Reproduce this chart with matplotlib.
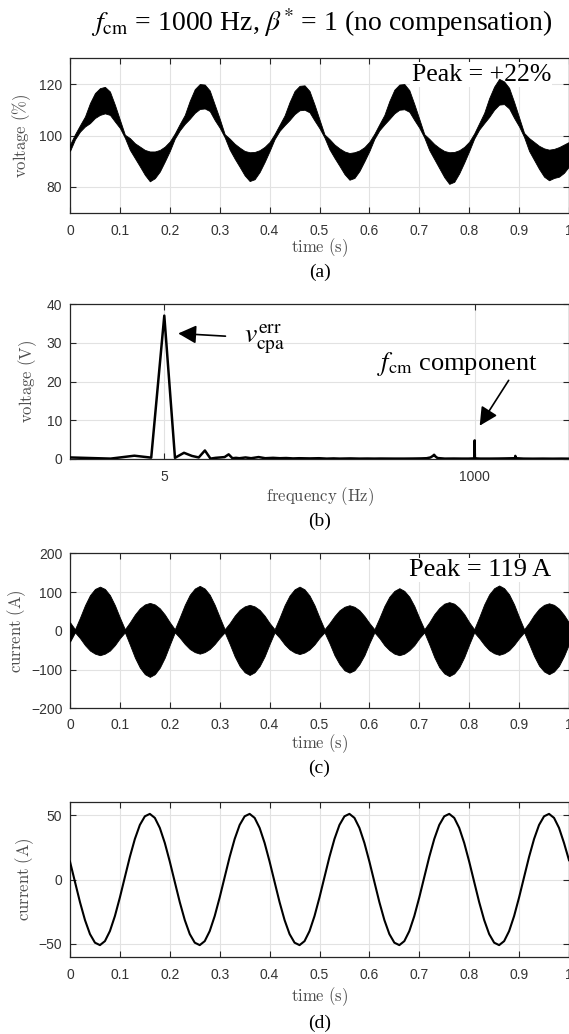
#!/usr/bin/env python3
"""Four stacked panels: voltage, its spectrum, inverter current, load current."""
import numpy as np
import matplotlib
matplotlib.use("Agg")
import matplotlib.pyplot as plt
from matplotlib.ticker import NullLocator

plt.rcParams["font.family"] = "Liberation Sans"

# ── Data ──
time_s = np.arange(101) / 100

# (a) voltage band, upper / lower envelope every 10 ms
volt_upper = [
    96.5, 100.5, 104.0, 107.4, 112.6, 116.5, 118.4, 118.9, 117.1, 111.9, 106.1, 100.3, 99.0, 97.0, 95.7, 94.4, 93.8, 93.8, 94.4, 95.7,
    97.7, 100.8, 104.5, 108.0, 113.5, 118.0, 120.0, 119.8, 117.5, 112.0, 106.5, 100.5, 98.8, 96.8, 95.3, 94.0, 93.5, 93.6, 94.3, 95.6,
    97.5, 100.6, 104.2, 107.8, 113.0, 117.3, 119.3, 119.5, 117.3, 112.0, 106.2, 100.4, 98.6, 96.5, 95.0, 93.8, 93.2, 93.5, 94.2, 95.5,
    97.6, 100.7, 104.4, 108.0, 113.4, 117.8, 119.8, 120.0, 117.6, 112.2, 106.4, 100.5, 98.7, 96.7, 95.2, 94.0, 93.5, 93.6, 94.3, 95.6,
    97.6, 100.8, 104.8, 108.8, 114.5, 119.0, 122.0, 121.0, 118.5, 113.0, 107.0, 101.0, 99.0, 97.5, 96.0, 95.0, 94.5, 94.8, 95.5, 96.5,
    97.5,
]
volt_lower = [
    94.0, 98.5, 101.5, 103.5, 104.8, 106.8, 108.0, 108.6, 108.0, 105.4, 102.9, 99.1, 94.4, 91.2, 88.0, 84.7, 82.2, 83.4, 86.0, 89.9,
    94.0, 98.8, 102.0, 104.5, 106.5, 108.8, 110.3, 110.5, 109.5, 106.0, 103.0, 99.3, 94.5, 91.0, 87.8, 84.5, 82.3, 83.0, 85.8, 89.7,
    94.0, 98.6, 101.8, 104.0, 106.0, 108.3, 109.8, 110.0, 109.0, 105.8, 102.8, 99.2, 94.6, 91.3, 88.2, 85.0, 82.8, 83.5, 86.2, 90.0,
    94.0, 98.7, 102.0, 104.3, 106.4, 108.6, 110.0, 110.2, 109.2, 106.0, 103.0, 99.2, 94.3, 90.8, 87.3, 83.8, 81.2, 82.0, 85.3, 89.5,
    94.0, 98.8, 102.3, 104.8, 107.2, 110.0, 112.0, 112.2, 110.5, 106.8, 103.5, 99.4, 94.0, 90.5, 87.0, 84.0, 82.6, 83.5, 84.0, 85.5,
    88.0,
]

# (b) spectrum
freq_hz = [1, 2, 3, 4, 5, 6, 7, 8, 9, 10,
           11, 12, 13, 14, 15, 16, 17, 18, 19, 20,
           22, 25, 28, 32, 36, 40, 45, 50, 60, 70,
           80, 90, 100, 120, 140, 160, 180, 200, 250, 300,
           350, 400, 440, 470, 490, 500, 510, 530, 600, 700,
           800, 900, 980, 998, 1000, 1002, 1020, 1100, 1300, 1500,
           1700, 1990, 2000, 2010, 2300, 2700, 3200, 3800, 4400, 5000]
spec_v = [0.4, 0.1, 0.85, 0.35, 37.0, 0.3, 1.6, 0.8, 0.4, 2.2,
          0.1, 0.3, 0.4, 0.5, 1.2, 0.2, 0.3, 0.2, 0.3, 0.4,
          0.2, 0.5, 0.2, 0.3, 0.2, 0.25, 0.15, 0.2, 0.15, 0.2,
          0.1, 0.15, 0.1, 0.15, 0.1, 0.12, 0.1, 0.12, 0.1, 0.1,
          0.12, 0.15, 0.2, 0.4, 0.8, 1.1, 0.7, 0.25, 0.1, 0.12,
          0.1, 0.1, 0.15, 0.2, 4.8, 0.2, 0.15, 0.1, 0.1, 0.12,
          0.15, 0.2, 0.8, 0.2, 0.1, 0.08, 0.1, 0.08, 0.1, 0.08]

# (c) current band, upper / lower envelope every 10 ms
curr_upper = [
    22,
    4, 34, 66, 92, 108, 114, 108, 92, 66, 34,
    4, 22, 42, 58, 68, 72, 68, 58, 42, 22,
    4, 35, 67, 93, 109, 116, 109, 93, 67, 35,
    4, 20, 39, 54, 63, 67, 63, 54, 39, 20,
    4, 34, 66, 91, 107, 114, 107, 91, 66, 34,
    4, 20, 38, 53, 62, 66, 62, 53, 38, 20,
    4, 33, 64, 88, 103, 110, 103, 88, 64, 33,
    4, 22, 43, 59, 70, 74, 70, 59, 43, 22,
    4, 35, 68, 94, 110, 117, 110, 94, 68, 35,
    4, 21, 41, 57, 67, 71, 67, 57, 41, 21,
]
curr_lower = [
    -28,
    -4, -19, -37, -51, -59, -63, -59, -51, -37, -19,
    -4, -36, -69, -95, -112, -119, -112, -95, -69, -36,
    -4, -18, -34, -47, -55, -59, -55, -47, -34, -18,
    -4, -34, -66, -91, -107, -114, -107, -91, -66, -34,
    -4, -18, -35, -48, -56, -60, -56, -48, -35, -18,
    -4, -32, -63, -86, -102, -108, -102, -86, -63, -32,
    -4, -19, -37, -50, -59, -63, -59, -50, -37, -19,
    -4, -35, -68, -94, -110, -117, -110, -94, -68, -35,
    -4, -19, -36, -50, -58, -62, -58, -50, -36, -19,
    -4, -34, -65, -90, -105, -112, -105, -90, -65, -34,
]

# (d) load current every 10 ms
load_a = [
    13.9, -1.9, -17.6, -31.5, -42.4, -49.1, -51.0, -47.9, -40.1, -28.4, -13.9, 1.9, 17.6, 31.5, 42.4, 49.1, 51.0, 47.9, 40.1, 28.4,
    13.9, -1.9, -17.6, -31.5, -42.4, -49.1, -51.0, -47.9, -40.1, -28.4, -13.9, 1.9, 17.6, 31.5, 42.4, 49.1, 51.0, 47.9, 40.1, 28.4,
    13.9, -1.9, -17.6, -31.5, -42.4, -49.1, -51.0, -47.9, -40.1, -28.4, -13.9, 1.9, 17.6, 31.5, 42.4, 49.1, 51.0, 47.9, 40.1, 28.4,
    13.9, -1.9, -17.6, -31.5, -42.4, -49.1, -51.0, -47.9, -40.1, -28.4, -13.9, 1.9, 17.6, 31.5, 42.4, 49.1, 51.0, 47.9, 40.1, 28.4,
    13.9, -1.9, -17.6, -31.5, -42.4, -49.1, -51.0, -47.9, -40.1, -28.4, -13.9, 1.9, 17.6, 31.5, 42.4, 49.1, 51.0, 47.9, 40.1, 28.4,
    15.0,
]

time_ticks = [0, 0.1, 0.2, 0.3, 0.4, 0.5, 0.6, 0.7, 0.8, 0.9, 1.0]
time_labels = ["0", "0.1", "0.2", "0.3", "0.4", "0.5", "0.6", "0.7", "0.8", "0.9", "1"]
freq_ticks = [5, 1000]
freq_labels = ["5", "1000"]

# ── Layout (pixels) ──
W, H = 569, 1034
fig = plt.figure(figsize=(W / 100, H / 100), dpi=100)
fig.patch.set_facecolor("white")

C_SPINE = "#262626"
C_TICK = "#333333"
C_LABEL = "#4d4d4d"
C_GRID = "#e2e2e2"
SERIF = "Liberation Serif"


def make_axes(top, bottom, left=70, right=569):
    return fig.add_axes([left / W, 1 - bottom / H, (right - left) / W, (bottom - top) / H])


def style(ax, ylim, yticks, xlabel, ylabel, xlab_y, ylab_x, xpad=8):
    ax.set_ylim(*ylim)
    ax.set_yticks(yticks)
    ax.grid(True, color=C_GRID, lw=0.8)
    ax.set_axisbelow(True)
    for s in ax.spines.values():
        s.set_color(C_SPINE)
        s.set_linewidth(0.9)
    ax.tick_params(direction="in", length=4, width=0.8, top=True, right=True,
                   colors=C_SPINE, labelcolor=C_TICK, labelsize=10)
    ax.tick_params(axis="x", pad=xpad)
    ax.tick_params(axis="y", pad=5.5)
    ax.set_xlabel(xlabel, math_fontfamily="cm", fontsize=12, color=C_LABEL)
    ax.set_ylabel(ylabel, math_fontfamily="cm", fontsize=12, color=C_LABEL)
    ax.xaxis.label.set_va("center")
    ax.yaxis.label.set_va("center")
    ax.xaxis.set_label_coords(0.5, xlab_y)
    ax.yaxis.set_label_coords(ylab_x, 0.5)


def time_axis(ax):
    ax.set_xlim(0, 1)
    ax.set_xticks(time_ticks)
    ax.set_xticklabels(time_labels)


def letter(y_px, s):
    fig.text(319.5 / W, 1 - y_px / H, s, ha="center", va="center",
             family=SERIF, fontsize=14)


# title
fig.text(321.5 / W, 1 - 31 / H,
         r"$f_{\mathrm{cm}}$ = 1000 Hz, $\beta^{*}$ = 1 (no compensation)",
         ha="center", va="baseline", family=SERIF, math_fontfamily="stix",
         fontsize=20)

# ── (a) voltage ──
ax_a = make_axes(58.3, 212.7)
ax_a.fill_between(time_s, volt_lower, volt_upper, color="black", lw=0.6, zorder=3)
time_axis(ax_a)
style(ax_a, (70, 130), [80, 100, 120], r"$\mathrm{time\ (s)}$",
      r"$\mathrm{voltage\ (\%)}$", -0.229, -0.097)
ax_a.text(0.964, 0.855, "Peak = +22%", transform=ax_a.transAxes, ha="right",
          va="baseline", family=SERIF, fontsize=18.5, zorder=2.2,
          bbox=dict(facecolor="white", edgecolor="none", pad=1))
letter(272.7, "(a)")

# ── (b) spectrum ──
ax_b = make_axes(304, 459)
ax_b.plot(freq_hz, spec_v, color="black", lw=1.8, zorder=3)
ax_b.set_xscale("log")
ax_b.set_xlim(1, 5000)
ax_b.set_xticks(freq_ticks)
ax_b.set_xticklabels(freq_labels)
ax_b.xaxis.set_minor_locator(NullLocator())
style(ax_b, (0, 40), [0, 10, 20, 30, 40], r"$\mathrm{frequency\ (Hz)}$",
      r"$\mathrm{voltage\ (V)}$", -0.245, -0.084)
arrow_kw = dict(arrowstyle="-|>,head_length=0.55,head_width=0.28",
                mutation_scale=20, color="black", lw=1.2, shrinkA=0, shrinkB=0)
ax_b.annotate("", xy=(6.34, 32.4), xytext=(14.2, 31.7), arrowprops=arrow_kw)
ax_b.text(19.4, 29.9, r"$v_{\mathrm{cpa}}^{\mathrm{err}}$", fontsize=20,
          math_fontfamily="stix", va="baseline", ha="left")
ax_b.annotate("", xy=(1089, 8.6), xytext=(1786, 20.3), arrowprops=arrow_kw)
ax_b.text(188, 22.9, r"$f_{\mathrm{cm}}$ component", family=SERIF,
          math_fontfamily="stix", fontsize=19, va="baseline", ha="left")
letter(521, "(b)")

# ── (c) inverter current ──
ax_c = make_axes(553.3, 708.3)
ax_c.fill_between(time_s, curr_lower, curr_upper, color="black", lw=0.6, zorder=3)
time_axis(ax_c)
style(ax_c, (-200, 200), [-200, -100, 0, 100, 200], r"$\mathrm{time\ (s)}$",
      r"$\mathrm{current\ (A)}$", -0.226, -0.107, xpad=7)
ax_c.text(0.964, 0.854, "Peak = 119 A", transform=ax_c.transAxes, ha="right",
          va="baseline", family=SERIF, fontsize=19, zorder=2.2,
          bbox=dict(facecolor="white", edgecolor="none", pad=1))
letter(768, "(c)")

# ── (d) load current ──
ax_d = make_axes(802.3, 956.7)
ax_d.plot(time_s, load_a, color="black", lw=1.5, zorder=3)
time_axis(ax_d)
style(ax_d, (-60, 60), [-50, 0, 50], r"$\mathrm{time\ (s)}$",
      r"$\mathrm{current\ (A)}$", -0.259, -0.090)
letter(1023, "(d)")

fig.savefig("out.png", dpi=100, facecolor="white")
